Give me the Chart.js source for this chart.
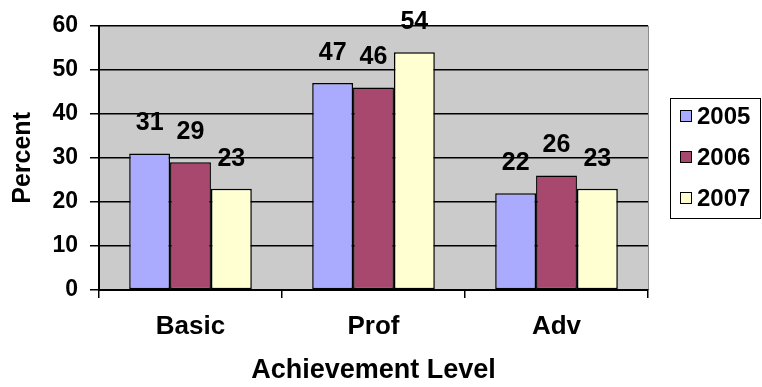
<!DOCTYPE html>
<html>
<head>
<meta charset="utf-8">
<script src="https://cdn.jsdelivr.net/npm/chart.js@4"></script>
<style>
  body { margin: 0; background: #fff; }
  canvas { display: block; }
</style>
</head>
<body>
<canvas id="chart" width="762" height="387"></canvas>
<script>
const categories = ["Basic", "Prof", "Adv"];
const years = ["2005", "2006", "2007"];
const values2005 = [31, 47, 22];
const values2006 = [29, 46, 26];
const values2007 = [23, 54, 23];
const yTicks = [0, 10, 20, 30, 40, 50, 60];

const FONT = "'Liberation Sans', Arial, sans-serif";

// grey plot area, like the old excel charts
const plotBg = {
  id: "plotBg",
  beforeDraw(chart) {
    const { ctx, chartArea: a } = chart;
    ctx.save();
    ctx.fillStyle = "#cbcbcb";
    ctx.fillRect(a.left, a.top, a.right - a.left, a.bottom - a.top);
    ctx.strokeStyle = "#8c8c8c";
    ctx.lineWidth = 1;
    ctx.beginPath();
    ctx.moveTo(a.right + 0.5, a.top);
    ctx.lineTo(a.right + 0.5, a.bottom);
    ctx.stroke();
    ctx.restore();
  },
};

// value above every bar
const barLabels = {
  id: "barLabels",
  afterDatasetsDraw(chart) {
    const ctx = chart.ctx;
    ctx.save();
    ctx.font = "bold 25px " + FONT;
    ctx.fillStyle = "#000";
    ctx.textAlign = "center";
    ctx.textBaseline = "middle";
    chart.data.datasets.forEach((ds, i) => {
      chart.getDatasetMeta(i).data.forEach((bar, j) => {
        ctx.fillText(ds.data[j], bar.x, bar.y - 30);
      });
    });
    ctx.restore();
  },
};

// boxed legend on the right
const boxLegend = {
  id: "boxLegend",
  afterDraw(chart) {
    const ctx = chart.ctx;
    const left = 670, top = 98, w = 90, h = 120;
    ctx.save();
    ctx.strokeStyle = "#000";
    ctx.lineWidth = 1;
    ctx.strokeRect(left + 0.5, top + 0.5, w, h);
    ctx.font = "bold 24px " + FONT;
    ctx.textBaseline = "middle";
    ctx.textAlign = "left";
    chart.data.datasets.forEach((ds, i) => {
      const cy = top + 18 + i * 41;
      ctx.fillStyle = ds.backgroundColor;
      ctx.fillRect(680, cy - 6, 12, 12);
      ctx.strokeStyle = "#000";
      ctx.strokeRect(680.5, cy - 5.5, 11, 11);
      ctx.fillStyle = "#000";
      ctx.fillText(ds.label, 697, cy + 1);
    });
    ctx.restore();
  },
};

const seriesColors = ["#aaaaff", "#a8486f", "#ffffd2"];
const seriesValues = [values2005, values2006, values2007];

new Chart(document.getElementById("chart").getContext("2d"), {
  type: "bar",
  data: {
    labels: categories,
    datasets: years.map((y, i) => ({
      label: y,
      data: seriesValues[i],
      backgroundColor: seriesColors[i],
      borderColor: "#000",
      borderWidth: 1.5,
      borderSkipped: false,
      categoryPercentage: 0.67,
      barPercentage: 1.0,
    })),
  },
  options: {
    responsive: false,
    animation: false,
    layout: { padding: { top: 23, right: 114, bottom: 0, left: 0 } },
    plugins: {
      legend: { display: false },
      tooltip: { enabled: false },
    },
    scales: {
      x: {
        grid: {
          display: true,
          drawOnChartArea: false,
          drawTicks: true,
          tickLength: 8,
          color: "#000",
          lineWidth: 1.5,
        },
        border: { color: "#000", width: 2 },
        ticks: {
          color: "#000",
          padding: 13,
          font: { family: FONT, size: 26, weight: "bold" },
        },
        title: {
          display: true,
          text: "Achievement Level",
          color: "#000",
          padding: { top: 0, bottom: 0 },
          font: { family: FONT, size: 27, weight: "bold" },
        },
        afterFit(scale) {
          scale.height = 97;
        },
      },
      y: {
        min: 0,
        max: 60,
        afterBuildTicks(scale) {
          scale.ticks = yTicks.map((v) => ({ value: v }));
        },
        grid: {
          color: "#000",
          lineWidth: 1.5,
          drawTicks: true,
          tickLength: 9,
        },
        border: { color: "#000", width: 2 },
        ticks: {
          color: "#000",
          padding: 12,
          font: { family: FONT, size: 23, weight: "bold" },
        },
        title: {
          display: true,
          text: "Percent",
          color: "#000",
          padding: { top: 8, bottom: 0 },
          font: { family: FONT, size: 25, weight: "bold" },
        },
        afterFit(scale) {
          scale.width = 99;
        },
      },
    },
  },
  plugins: [plotBg, barLabels, boxLegend],
});
</script>
</body>
</html>
